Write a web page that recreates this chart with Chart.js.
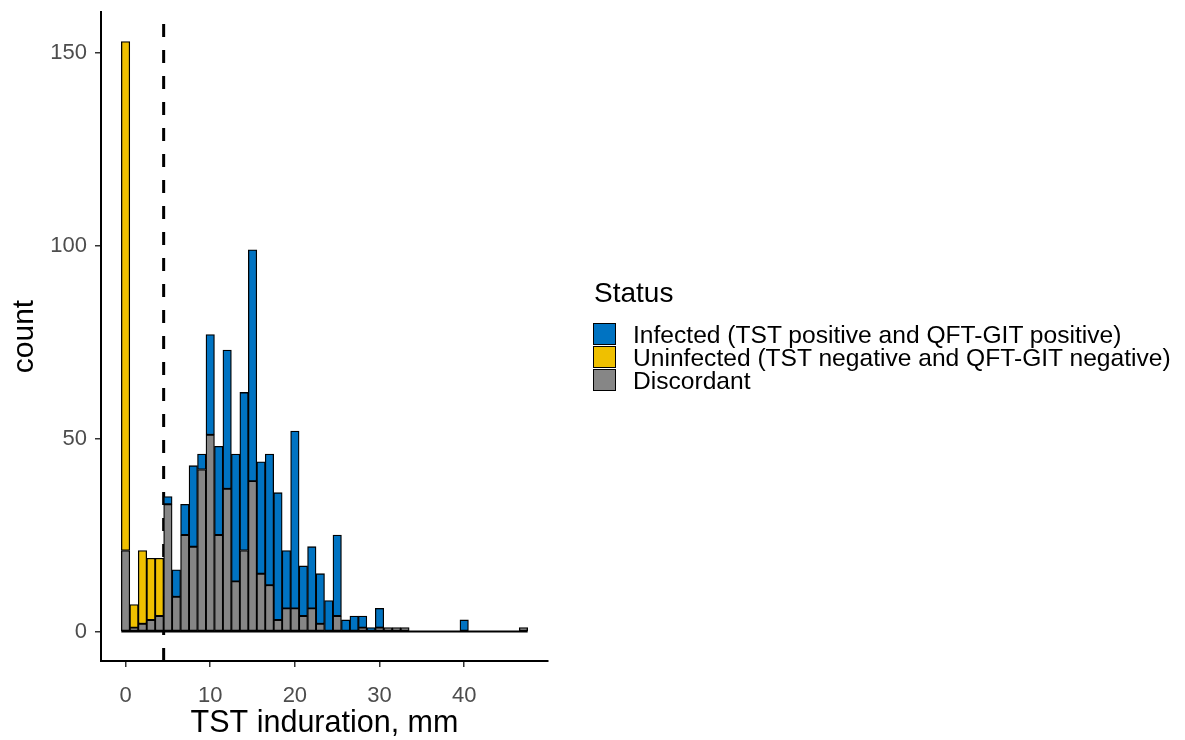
<!DOCTYPE html>
<html>
<head>
<meta charset="utf-8">
<script src="https://cdn.jsdelivr.net/npm/chart.js@4.4.1/dist/chart.umd.min.js"></script>
<style>
  body { margin: 0; background: #fff; font-family: "Liberation Sans", Arial, sans-serif; }
  #wrap { position: relative; width: 1185px; height: 740px; }
  #legend { position: absolute; left: 593px; top: 279px; }
  .lg-title { position: absolute; left: 1px; top: 0; font-size: 28px; line-height: 28px; color: #000; white-space: nowrap; }
  .lg-row { position: absolute; left: 0; height: 23px; white-space: nowrap; }
  .lg-key { position: absolute; left: 0; top: 0; width: 21px; height: 20px; border: 1.5px solid #000; }
  .lg-text { position: absolute; left: 40px; top: 0; font-size: 24.6px; line-height: 23px; color: #000; }
</style>
</head>
<body>
<div id="wrap">
  <canvas id="histChart" width="1185" height="740"></canvas>
  <div id="legend"></div>
</div>
<script>
// TST induration bins (mm), 1 mm wide
const bins = [0, 1, 2, 3, 4, 5, 6, 7, 8, 9, 10, 11, 12, 13, 14, 15, 16, 17, 18, 19,
              20, 21, 22, 23, 24, 25, 26, 27, 28, 29, 30, 31, 32, 33, 34, 35, 36, 37, 38, 39,
              40, 41, 42, 43, 44, 45, 46, 47];

const infected = [0, 0, 0, 0, 0, 2, 7, 8, 21, 4, 26, 23, 36, 33, 41, 60, 29, 34, 33, 15,
                  46, 13, 16, 13, 8, 21, 3, 4, 3, 1, 5, 0, 0, 0, 0, 0, 0, 0, 0, 0,
                  3, 0, 0, 0, 0, 0, 0, 0];
const uninfected = [132, 6, 19, 16, 15, 0, 0, 0, 0, 0, 0, 0, 0, 0, 0, 0, 0, 0, 0, 0,
                    0, 0, 0, 0, 0, 0, 0, 0, 0, 0, 0, 0, 0, 0, 0, 0, 0, 0, 0, 0,
                    0, 0, 0, 0, 0, 0, 0, 0];
const discordant = [21, 1, 2, 3, 4, 33, 9, 25, 22, 42, 51, 25, 37, 13, 21, 39, 15, 12, 3, 6,
                    6, 4, 6, 2, 0, 4, 0, 0, 1, 0, 1, 1, 1, 1, 0, 0, 0, 0, 0, 0,
                    0, 0, 0, 0, 0, 0, 0, 1];

const statusLabels = ['Infected (TST positive and QFT-GIT positive)',
                      'Uninfected (TST negative and QFT-GIT negative)',
                      'Discordant'];
const statusColors = ['#0073C2', '#EFC000', '#868686'];

const xTicks = [0, 10, 20, 30, 40];
const yTicks = [0, 50, 100, 150];
const cutoff = 4.5;
const xMin = -2.9, xMax = 49.9;
const yMin = -7.65, yMax = 160.65;

const toPoints = vals => bins.map((b, i) => ({ x: b, y: vals[i] }));

Chart.defaults.font.family = '"Liberation Sans", Arial, sans-serif';

new Chart(document.getElementById('histChart'), {
    type: 'bar',
    data: {
        datasets: [
            { label: statusLabels[2], data: toPoints(discordant), backgroundColor: statusColors[2] },
            { label: statusLabels[1], data: toPoints(uninfected), backgroundColor: statusColors[1] },
            { label: statusLabels[0], data: toPoints(infected), backgroundColor: statusColors[0] },
            {
                type: 'line', stack: 'base',
                data: [{ x: bins[0] - 0.5, y: 0 }, { x: bins[bins.length - 1] + 0.5, y: 0 }],
                borderColor: '#000', borderWidth: 2, pointRadius: 0
            },
            {
                type: 'line', stack: 'cut',
                data: [{ x: cutoff, y: yMin }, { x: cutoff, y: yMax }],
                borderColor: '#000', borderWidth: 3, borderDash: [13, 13], pointRadius: 0
            }
        ]
    },
    options: {
        responsive: false,
        animation: false,
        layout: { padding: { left: 0, right: 637, top: 12, bottom: 0 } },
        plugins: { legend: { display: false }, tooltip: { enabled: false } },
        datasets: {
            bar: {
                barPercentage: 1, categoryPercentage: 1,
                borderColor: '#000', borderWidth: 1.3, borderSkipped: false
            }
        },
        scales: {
            x: {
                type: 'linear', stacked: true, offset: false,
                min: xMin, max: xMax,
                afterBuildTicks: s => { s.ticks = xTicks.map(v => ({ value: v })); },
                afterFit: s => { s.height = 79; s.paddingLeft = 0; s.paddingRight = 0; },
                grid: { offset: false, drawOnChartArea: false, drawTicks: true, tickLength: 6, color: '#333', lineWidth: 1.5 },
                border: { display: true, color: '#000', width: 2 },
                ticks: { color: '#4D4D4D', font: { size: 22 }, padding: 16, maxRotation: 0 },
                title: { display: true, text: 'TST induration, mm', color: '#000',
                         font: { size: 30.5, lineHeight: 1 }, padding: { top: 0, bottom: 1 } }
            },
            y: {
                stacked: true,
                min: yMin, max: yMax,
                afterBuildTicks: s => { s.ticks = yTicks.map(v => ({ value: v })); },
                afterFit: s => { s.width = 101; s.paddingTop = 0; s.paddingBottom = 0; },
                grid: { drawOnChartArea: false, drawTicks: true, tickLength: 6, color: '#333', lineWidth: 1.5 },
                border: { display: true, color: '#000', width: 2 },
                ticks: { color: '#4D4D4D', font: { size: 22 }, padding: 8 },
                title: { display: true, text: 'count', color: '#000',
                         font: { size: 30, lineHeight: 1.2 }, padding: { top: 7, bottom: 0 } }
            }
        }
    }
});

// legend built from the same labels and colours
const legend = document.getElementById('legend');
const title = document.createElement('div');
title.className = 'lg-title';
title.textContent = 'Status';
legend.appendChild(title);
statusLabels.forEach((lab, i) => {
    const row = document.createElement('div');
    row.className = 'lg-row';
    row.style.top = (44 + i * 23) + 'px';
    const key = document.createElement('div');
    key.className = 'lg-key';
    key.style.background = statusColors[i];
    const txt = document.createElement('div');
    txt.className = 'lg-text';
    txt.textContent = lab;
    row.appendChild(key);
    row.appendChild(txt);
    legend.appendChild(row);
});
</script>
</body>
</html>
